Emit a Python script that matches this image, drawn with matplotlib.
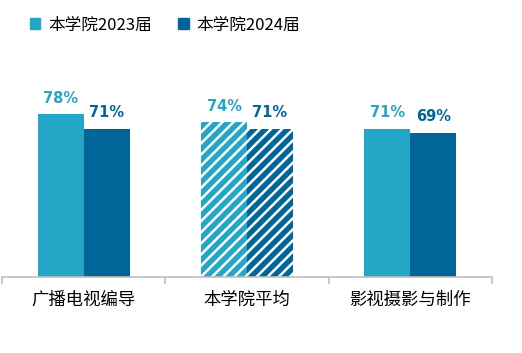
import matplotlib
matplotlib.use("Agg")
import matplotlib.pyplot as plt
from matplotlib.patches import Patch
import numpy as np

plt.rcParams['font.family'] = ['Noto Sans CJK SC', 'DejaVu Sans']
plt.rcParams['hatch.linewidth'] = 1.8

categories = ["广播电视编导", "本学院平均", "影视摄影与制作"]
series_names = ["本学院2023届", "本学院2024届"]
values_2023 = [78, 74, 71]
values_2024 = [71, 71, 69]
hatched = [False, True, False]

c_light = "#24A6C6"
c_dark = "#006599"

fig = plt.figure(figsize=(5.22, 3.53), dpi=100)
ax = fig.add_axes([0.004, 0.2153, 0.9385, 0.592])

x = np.arange(len(categories))
w = 0.282
for vals, off, col in [(values_2023, -w / 2, c_light), (values_2024, w / 2, c_dark)]:
    for i, v in enumerate(vals):
        if hatched[i]:
            ax.bar(x[i] + off, v, w, color=col, edgecolor="white", hatch="///", linewidth=0)
        else:
            ax.bar(x[i] + off, v, w, color=col, linewidth=0)
        ax.annotate(f"{v}%", (x[i] + off, v), xytext=(0, 6), textcoords="offset points",
                    ha="center", va="bottom", color=col, fontsize=10.5, fontweight="bold",
                    family=["DejaVu Sans"])

ax.set_xlim(-0.5, 2.5)
ax.set_ylim(0, 100)
ax.set_yticks([])
for s in ["top", "right", "left"]:
    ax.spines[s].set_visible(False)
ax.spines["bottom"].set_color("#bfbfbf")
ax.spines["bottom"].set_linewidth(1.2)

ax.set_xticks([-0.5, 0.5, 1.5, 2.5])
ax.set_xticklabels([])
ax.tick_params(axis="x", which="major", length=5, color="#bfbfbf", width=1.2)
ax.set_xticks(x, minor=True)
ax.set_xticklabels(categories, minor=True, fontsize=12.5)
ax.tick_params(axis="x", which="minor", length=0, pad=10)

handles = [Patch(color=c_light), Patch(color=c_dark)]
fig.legend(handles, series_names, loc="upper left", bbox_to_anchor=(0.028, 0.995),
           ncol=2, frameon=False, fontsize=12, handlelength=0.65, handleheight=0.65,
           handletextpad=0.45, columnspacing=1.6)

fig.savefig("out.png", dpi=100)
